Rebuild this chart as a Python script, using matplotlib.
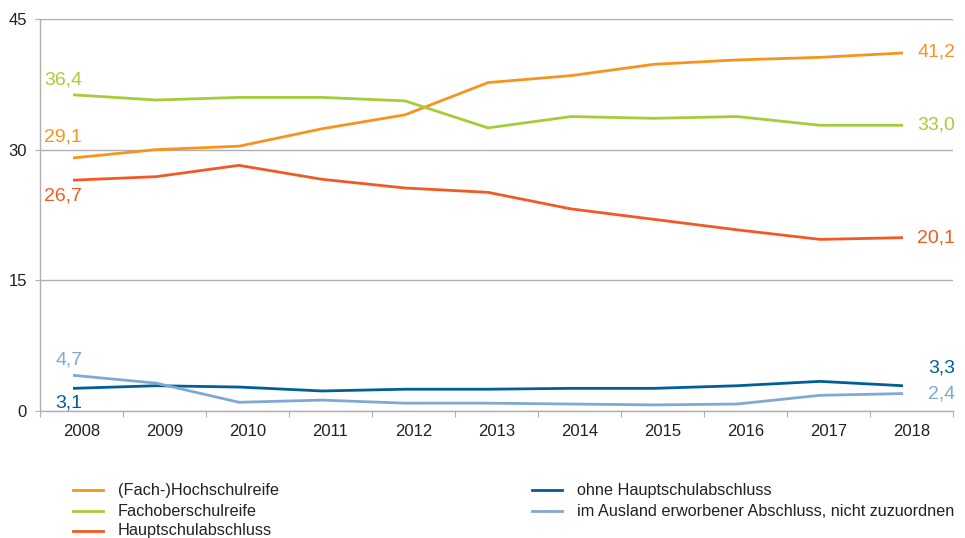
import matplotlib
matplotlib.use("Agg")
import matplotlib.pyplot as plt
from matplotlib.lines import Line2D

plt.rcParams['font.family'] = ['Liberation Sans', 'DejaVu Sans']

years = ['2008', '2009', '2010', '2011', '2012', '2013', '2014', '2015', '2016', '2017', '2018']
hochschulreife = [29.05, 30.0, 30.4, 32.4, 34.0, 37.7, 38.5, 39.8, 40.3, 40.6, 41.1]
fachoberschulreife = [36.3, 35.7, 36.0, 36.0, 35.6, 32.5, 33.8, 33.6, 33.8, 32.8, 32.8]
hauptschulabschluss = [26.5, 26.9, 28.2, 26.6, 25.6, 25.1, 23.2, 22.0, 20.8, 19.7, 19.9]
ohne_hauptschul = [2.6, 2.9, 2.75, 2.3, 2.5, 2.5, 2.6, 2.6, 2.9, 3.4, 2.9]
ausland = [4.1, 3.2, 1.0, 1.25, 0.9, 0.9, 0.8, 0.7, 0.8, 1.8, 2.0]

series_names = ['(Fach-)Hochschulreife', 'Fachoberschulreife', 'Hauptschulabschluss',
                'ohne Hauptschulabschluss', 'im Ausland erworbener Abschluss, nicht zuzuordnen']
series_vals = [hochschulreife, fachoberschulreife, hauptschulabschluss, ohne_hauptschul, ausland]
colors = ['#F7941D', '#A5CD39', '#F15A24', '#005F98', '#7FA9D3']

start_labels = ['29,1', '36,4', '26,7', '3,1', '4,7']
end_labels = ['41,2', '33,0', '20,1', '3,3', '2,4']
start_label_y = [31.5, 38.0, 24.7, 0.9, 5.85]
end_label_y = [41.2, 32.8, 19.9, 4.9, 1.95]

W, H = 965, 538
fig = plt.figure(figsize=(W / 100, H / 100), dpi=100)
ax = fig.add_axes([40 / W, (H - 411) / H, (953 - 40) / W, (411 - 19) / H])

x = list(range(len(years)))
for vals, c in zip(series_vals, colors):
    ax.plot(x, vals, color=c, lw=2.0, solid_capstyle='butt', zorder=3)

for lab, yy, c in zip(start_labels, start_label_y, colors):
    ax.text(0.11, yy, lab, color=c, fontsize=14, ha='right', va='center')
for lab, yy, c in zip(end_labels, end_label_y, colors):
    ax.text(10.63, yy, lab, color=c, fontsize=14, ha='right', va='center', clip_on=False)

ax.set_xlim(-33 / 83, 10 + 50 / 83)
ax.set_ylim(0, 45)
ax.set_yticks([0, 15, 30, 45])
ax.set_yticklabels(['0', '15', '30', '45'])
ax.yaxis.grid(True, color='#B0B0B0', lw=1.0)
ax.set_axisbelow(True)

ax.set_xticks([i + 0.6 for i in range(10)] + [-33 / 83, 10 + 50 / 83])
ax.set_xticklabels([''] * 12)
ax.set_xticks([i + 0.1 for i in x], minor=True)
ax.set_xticklabels(years, minor=True)
ax.tick_params(axis='x', which='major', length=4, color='#B0B0B0', direction='out')
ax.tick_params(axis='x', which='minor', length=0, labelsize=12, pad=9, colors='#222222')
ax.tick_params(axis='y', length=3.5, color='#B0B0B0', labelsize=12, colors='#222222', pad=6)

for s in ['top', 'right']:
    ax.spines[s].set_visible(False)
for s in ['left', 'bottom']:
    ax.spines[s].set_color('#B0B0B0')
    ax.spines[s].set_linewidth(1.0)

# legend
leg_pos = [(73, 490), (73, 511), (73, 531), (532, 490), (532, 511)]
for (px, py), name, c in zip(leg_pos, series_names, colors):
    fig.add_artist(Line2D([px / W, (px + 30) / W], [1 - py / H, 1 - py / H], color=c, lw=2.0))
    fig.text((px + 45) / W, 1 - py / H, name, fontsize=11.7, va='center', ha='left',
             color='#222222')

fig.savefig('out.png', dpi=100)
